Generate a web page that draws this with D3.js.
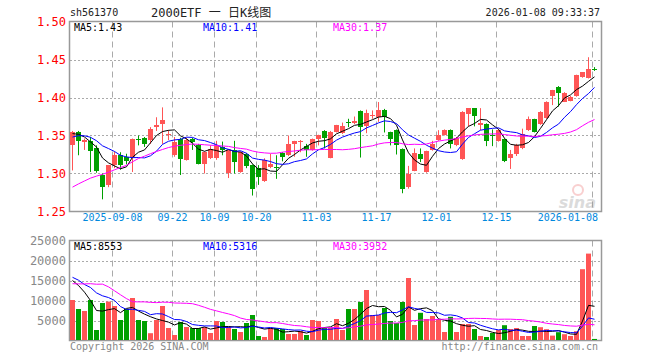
<!DOCTYPE html>
<html><head><meta charset="utf-8">
<script src="https://cdn.jsdelivr.net/npm/d3@7"></script>
<style>body{margin:0;background:#fff}svg{display:block}</style>
</head><body><svg id="c" width="660" height="360"></svg>
<script>
// ---- data ----
const openP  = [1.338,1.354,1.342,1.343,1.334,1.298,1.285,1.311,1.324,1.322,1.322,1.346,1.347,1.344,1.361,1.365,1.351,1.324,1.345,1.318,1.345,1.337,
                1.312,1.320,1.320,1.335,1.300,1.331,1.302,1.326,1.311,1.307,1.290,1.308,1.309,1.327,1.324,1.339,1.343,1.336,1.331,1.345,1.356,1.321,
                1.355,1.353,1.368,1.366,1.382,1.362,1.376,1.375,1.384,1.355,1.357,1.332,1.282,1.303,1.326,1.302,1.331,1.344,1.350,1.357,1.337,1.319,
                1.378,1.386,1.364,1.365,1.350,1.343,1.345,1.321,1.326,1.333,1.357,1.372,1.365,1.373,1.402,1.414,1.394,1.396,1.402,1.427,1.426,1.437];
const highP  = [1.356,1.356,1.346,1.348,1.337,1.300,1.311,1.329,1.328,1.326,1.346,1.350,1.348,1.361,1.374,1.387,1.357,1.348,1.347,1.347,1.347,1.339,
                1.329,1.337,1.343,1.342,1.331,1.343,1.329,1.327,1.312,1.311,1.320,1.326,1.324,1.328,1.350,1.343,1.344,1.339,1.346,1.351,1.357,1.356,
                1.364,1.367,1.372,1.375,1.383,1.384,1.383,1.394,1.385,1.355,1.358,1.333,1.310,1.333,1.333,1.330,1.343,1.357,1.358,1.358,1.348,1.382,
                1.386,1.386,1.386,1.366,1.358,1.359,1.346,1.331,1.339,1.359,1.375,1.372,1.382,1.395,1.410,1.415,1.407,1.402,1.430,1.433,1.453,1.440];
const lowP   = [1.304,1.324,1.331,1.302,1.301,1.266,1.282,1.307,1.305,1.312,1.302,1.337,1.335,1.339,1.356,1.339,1.344,1.322,1.298,1.317,1.331,1.312,
                1.300,1.319,1.318,1.324,1.294,1.300,1.301,1.307,1.271,1.285,1.289,1.307,1.293,1.316,1.323,1.322,1.328,1.322,1.330,1.337,1.333,1.320,
                1.354,1.352,1.361,1.365,1.321,1.353,1.372,1.368,1.354,1.337,1.325,1.274,1.280,1.303,1.315,1.301,1.330,1.343,1.350,1.333,1.336,1.318,
                1.362,1.362,1.357,1.336,1.336,1.342,1.315,1.306,1.323,1.332,1.356,1.354,1.364,1.372,1.390,1.388,1.394,1.395,1.401,1.426,1.425,1.435];
const closeP = [1.354,1.343,1.344,1.330,1.303,1.282,1.311,1.324,1.311,1.316,1.345,1.344,1.339,1.358,1.364,1.371,1.352,1.342,1.319,1.344,1.342,1.313,
                1.328,1.332,1.336,1.331,1.331,1.315,1.328,1.310,1.279,1.296,1.318,1.313,1.308,1.322,1.339,1.343,1.343,1.331,1.345,1.350,1.347,1.355,
                1.364,1.362,1.367,1.369,1.361,1.380,1.377,1.384,1.374,1.346,1.337,1.280,1.299,1.327,1.319,1.329,1.339,1.350,1.357,1.339,1.347,1.381,
                1.386,1.376,1.366,1.343,1.349,1.357,1.317,1.326,1.337,1.352,1.372,1.355,1.381,1.394,1.410,1.406,1.406,1.401,1.429,1.433,1.437,1.436];
const volume = [10000,7750,7250,10000,2500,9250,9600,8500,5000,7750,10500,5000,4750,1700,5000,8500,3000,1250,4500,3250,3000,3000,
                3250,1750,4750,4500,3250,2750,2000,4250,6250,1000,750,3000,3000,2750,1500,1500,2250,1250,5000,4750,3000,3000,
                5250,2500,7750,7750,9500,12500,6250,6250,8000,4750,4250,9500,15500,3750,6800,5250,6000,5250,2000,5800,2000,4000,
                4000,2750,1000,750,1750,2500,3700,2750,3000,1000,1000,3500,3200,2700,1100,1950,1445,1000,2200,17700,21600,265];
// estimated sessions before the visible window (only feed the moving averages)
const prevClose  = [1.215,1.228,1.218,1.224,1.212,1.226,1.231,1.220,1.229,1.205,1.214,1.248,1.258,1.280,1.290,
                    1.276,1.288,1.285,1.315,1.320,1.325,1.345,1.350,1.348,1.349,1.3475,1.362,1.362,1.337];
const prevVolume = [9000,7500,8500,6500,8500,30000,38000,35000,36500,34000,6000,4500,5500,7000,5000,
                    4000,6500,5500,4500,6000,15000,18000,17500,16000,16500,14000,15600,20400,15000];
const tickIndex  = [7,17,24,31,41,51,61,71,87];
const tickLabels = ["2025-09-08","09-22","10-09","10-20","11-03","11-17","12-01","12-15","2026-01-08"];
const priceTicks = [1.50,1.45,1.40,1.35,1.30,1.25];
const volTicks   = [25000,20000,15000,10000,5000];
const maPeriods  = [5,10,30];
const maColors   = ["#000000","#0000ff","#ff00ff"];

// ---- layout ----
const svg = d3.select("#c");
const L = 70, R = 601;
const n = closeP.length;
const x = d3.scaleLinear().domain([0, n - 1]).range([70, 70 + 6 * (n - 1)]);
const bw = 5;
const y = d3.scaleLinear().domain([1.25, 1.50]).range([211.5, 21.5]);
const yv = d3.scaleLinear().domain([0, 25000]).range([340.5, 240.5]);
const RED = "#ff5555", GREEN = "#00a000", GRID = "#aaaaaa";
const mono = "'DejaVu Sans Mono', 'Liberation Mono', monospace";

function ma(all, offset, p) {
  return d3.range(n).map(i => d3.mean(all.slice(offset + i - p + 1, offset + i + 1)));
}
const allClose = prevClose.concat(closeP);
const allVol = prevVolume.concat(volume);
const priceMA = maPeriods.map(p => ma(allClose, prevClose.length, p));
const volMA = maPeriods.map(p => ma(allVol, prevVolume.length, p));

// ---- header ----
svg.append("text").attr("x", 70).attr("y", 16).attr("font-family", mono).attr("font-size", 10).attr("fill", "#222").text("sh561370");
svg.append("text").attr("x", 151).attr("y", 17).attr("font-family", mono + ", 'Noto Sans CJK SC'").attr("font-size", 12).attr("fill", "#222").text("2000ETF 一 日K线图");
svg.append("text").attr("x", 600).attr("y", 16).attr("text-anchor", "end").attr("font-family", mono).attr("font-size", 10).attr("fill", "#222").text("2026-01-08 09:33:37");

function panel(yTop, yBot, hTicks, ys) {
  const g = svg.append("g");
  g.selectAll("line.h").data(hTicks).join("line")
    .attr("x1", L).attr("x2", R).attr("y1", d => Math.round(ys(d)) + 0.5).attr("y2", d => Math.round(ys(d)) + 0.5)
    .attr("stroke", GRID).attr("stroke-dasharray", "2,2");
  g.selectAll("line.v").data(tickIndex).join("line")
    .attr("x1", d => x(d) + 0.5).attr("x2", d => x(d) + 0.5).attr("y1", yTop).attr("y2", yBot)
    .attr("stroke", GRID).attr("stroke-dasharray", "6,4");
  g.append("rect").attr("x", L - 0.5).attr("y", yTop).attr("width", R - L + 1).attr("height", yBot - yTop)
    .attr("fill", "none").attr("stroke", "#999").attr("stroke-width", 1.5);
}
panel(y(1.50), y(1.25), priceTicks.slice(1, -1), y);
panel(yv(25000), yv(0), volTicks.slice(1), yv);

// price axis labels
svg.selectAll("text.py").data(priceTicks).join("text")
  .attr("x", 66).attr("y", d => y(d) + 4).attr("text-anchor", "end")
  .attr("font-family", mono).attr("font-size", 12).attr("fill", "#ff0000").text(d => d.toFixed(2));
// volume axis labels
svg.selectAll("text.vy").data(volTicks).join("text")
  .attr("x", 66).attr("y", d => yv(d) + 4).attr("text-anchor", "end")
  .attr("font-family", mono).attr("font-size", 12).attr("fill", "#888").text(d => d);
// date labels (last one kept inside the frame)
svg.selectAll("text.dx").data(tickIndex).join("text")
  .attr("x", (d, i) => i === tickIndex.length - 1 ? R - 3 : x(d) + 0.5).attr("y", 221)
  .attr("text-anchor", (d, i) => i === tickIndex.length - 1 ? "end" : "middle")
  .attr("font-family", mono).attr("font-size", 10).attr("fill", "#0088dd").text((d, i) => tickLabels[i]);

// watermark
const wm = svg.append("g").attr("opacity", 0.35);
wm.append("circle").attr("cx", 578).attr("cy", 190).attr("r", 5).attr("fill", "none").attr("stroke", "#e77").attr("stroke-width", 2);
wm.append("text").attr("x", 596).attr("y", 208).attr("text-anchor", "end").attr("font-family", "'DejaVu Sans'")
  .attr("font-style", "italic").attr("font-weight", "bold").attr("font-size", 16).attr("fill", "#999").text("sina");

// candles
const up = i => closeP[i] >= openP[i];
const cg = svg.append("g");
d3.range(n).forEach(i => {
  const c = up(i) ? RED : GREEN;
  const cx = x(i) + 2.5;
  cg.append("line").attr("x1", cx).attr("x2", cx).attr("y1", y(highP[i])).attr("y2", y(lowP[i])).attr("stroke", c);
  const y1 = y(Math.max(openP[i], closeP[i])), y2 = y(Math.min(openP[i], closeP[i]));
  cg.append("rect").attr("x", x(i)).attr("y", Math.round(y1)).attr("width", bw)
    .attr("height", Math.max(1, Math.round(y2) - Math.round(y1))).attr("fill", c);
});
// volume bars
svg.append("g").selectAll("rect").data(volume).join("rect")
  .attr("x", (d, i) => x(i)).attr("y", d => yv(d) - 0.5).attr("width", bw)
  .attr("height", d => yv(0) - yv(d)).attr("fill", (d, i) => up(i) ? RED : GREEN);

// MA lines
const line = (ys) => d3.line().x((d, i) => x(i) + 2.5).y(d => ys(d));
priceMA.forEach((arr, k) => svg.append("path").attr("d", line(y)(arr)).attr("fill", "none").attr("stroke", maColors[k]).attr("stroke-width", 1));
volMA.forEach((arr, k) => svg.append("path").attr("d", line(yv)(arr)).attr("fill", "none").attr("stroke", maColors[k]).attr("stroke-width", 1));

// legends
const legX = [74, 203, 333];
maPeriods.forEach((p, k) => {
  svg.append("text").attr("x", legX[k]).attr("y", 31).attr("font-family", mono).attr("font-size", 10).attr("fill", maColors[k])
    .text("MA" + p + ":" + priceMA[k][n - 1].toFixed(2));
  svg.append("text").attr("x", legX[k]).attr("y", 250).attr("font-family", mono).attr("font-size", 10).attr("fill", maColors[k])
    .text("MA" + p + ":" + Math.round(volMA[k][n - 1]));
});

// footer
svg.append("text").attr("x", 70).attr("y", 350).attr("font-family", mono).attr("font-size", 10).attr("fill", "#888").text("Copyright 2026 SINA.COM");
svg.append("text").attr("x", 598).attr("y", 350).attr("text-anchor", "end").attr("font-family", mono).attr("font-size", 10).attr("fill", "#888").text("http://finance.sina.com.cn");
</script></body></html>
